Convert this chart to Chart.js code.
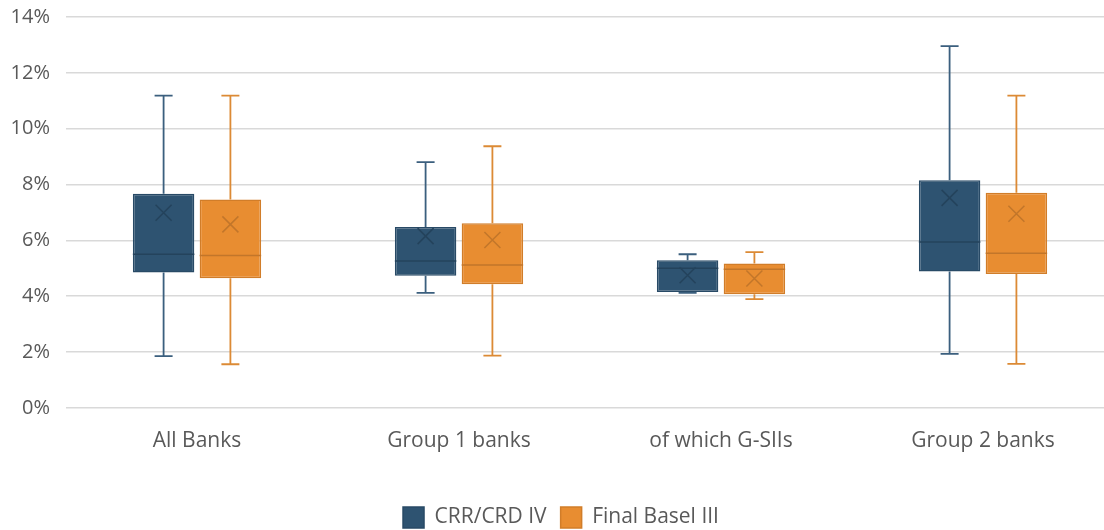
<!DOCTYPE html>
<html>
<head>
<meta charset="utf-8">
<script src="https://cdn.jsdelivr.net/npm/chart.js@4/dist/chart.umd.min.js"></script>
<style>
  html, body { margin: 0; padding: 0; background: #fff; overflow: hidden; }
  #wrap { position: relative; width: 1114px; height: 538px; }
</style>
</head>
<body>
<div id="wrap"><canvas id="myChart"></canvas></div>
<script>
// leverage ratio distribution by bank group
const categories = ["All Banks", "Group 1 banks", "of which G-SIIs", "Group 2 banks"];
const seriesNames = ["CRR/CRD IV", "Final Basel III"];

const crrMin    = [1.85, 4.12, 4.12, 1.93];
const crrQ1     = [4.85, 4.73, 4.15, 4.88];
const crrMedian = [5.50, 5.26, 5.00, 5.94];
const crrQ3     = [7.67, 6.48, 5.29, 8.15];
const crrMax    = [11.18, 8.80, 5.50, 12.96];
const crrMean   = [6.99, 6.15, 4.75, 7.52];

const b3Min    = [1.56, 1.87, 3.89, 1.57];
const b3Q1     = [4.64, 4.43, 4.07, 4.79];
const b3Median = [5.46, 5.12, 4.96, 5.54];
const b3Q3     = [7.46, 6.61, 5.17, 7.70];
const b3Max    = [11.18, 9.37, 5.58, 11.18];
const b3Mean   = [6.57, 6.01, 4.63, 6.95];

const yTicks = [0, 2, 4, 6, 8, 10, 12, 14];

const stats = [
  { min: crrMin, median: crrMedian, max: crrMax, mean: crrMean, line: "#3b5f7e", mark: "#24435c" },
  { min: b3Min, median: b3Median, max: b3Max, mean: b3Mean, line: "#dc8a35", mark: "#c2762a" }
];

// whiskers, median and mean marker on top of the floating bars
const boxExtras = {
  id: "boxExtras",
  afterDatasetsDraw(chart) {
    const ctx = chart.ctx;
    const y = chart.scales.y;
    chart.data.datasets.forEach((ds, di) => {
      const s = stats[di];
      chart.getDatasetMeta(di).data.forEach((bar, i) => {
        const x = bar.x;
        const half = bar.width / 2;
        const yTop = y.getPixelForValue(ds.data[i][1]);
        const yBot = y.getPixelForValue(ds.data[i][0]);
        const yMax = y.getPixelForValue(s.max[i]);
        const yMin = y.getPixelForValue(s.min[i]);
        ctx.save();
        ctx.strokeStyle = s.line;
        ctx.lineWidth = 1.8;
        ctx.beginPath();
        ctx.moveTo(x, yMax); ctx.lineTo(x, yTop);
        ctx.moveTo(x, yBot); ctx.lineTo(x, yMin);
        ctx.moveTo(x - 9, yMax); ctx.lineTo(x + 9, yMax);
        ctx.moveTo(x - 9, yMin); ctx.lineTo(x + 9, yMin);
        ctx.stroke();

        ctx.strokeStyle = s.mark;
        ctx.lineWidth = 1.5;
        const yMed = y.getPixelForValue(s.median[i]);
        ctx.beginPath();
        ctx.moveTo(x - half, yMed); ctx.lineTo(x + half, yMed);
        ctx.stroke();

        const yMean = y.getPixelForValue(s.mean[i]);
        const r = 8;
        ctx.beginPath();
        ctx.moveTo(x - r, yMean - r); ctx.lineTo(x + r, yMean + r);
        ctx.moveTo(x + r, yMean - r); ctx.lineTo(x - r, yMean + r);
        ctx.stroke();
        ctx.restore();
      });
    });
  }
};

Chart.defaults.font.family = "'Open Sans', 'Noto Sans', sans-serif";
Chart.defaults.color = "#595959";

const ctx = document.getElementById("myChart");
new Chart(ctx, {
  type: "bar",
  data: {
    labels: categories,
    datasets: [
      {
        label: seriesNames[0],
        data: crrQ1.map((v, i) => [v, crrQ3[i]]),
        backgroundColor: "#2e5371",
        borderColor: "#284a66",
        borderWidth: 1.5,
        borderSkipped: false
      },
      {
        label: seriesNames[1],
        data: b3Q1.map((v, i) => [v, b3Q3[i]]),
        backgroundColor: "#e88d31",
        borderColor: "#d17d29",
        borderWidth: 1.5,
        borderSkipped: false
      }
    ]
  },
  options: {
    responsive: true,
    maintainAspectRatio: false,
    animation: false,
    categoryPercentage: 0.51,
    barPercentage: 0.92,
    layout: { padding: { top: 0, left: 8, right: 0, bottom: 0 } },
    plugins: {
      tooltip: { enabled: false },
      legend: {
        position: "bottom",
        labels: {
          boxWidth: 21,
          boxHeight: 21,
          padding: 14,
          font: { size: 21 },
          color: "#595959"
        }
      }
    },
    scales: {
      x: {
        grid: { display: false },
        border: { display: false },
        ticks: { font: { size: 21 }, padding: 13, color: "#595959" },
        afterFit: axis => { axis.height += 26; }
      },
      y: {
        min: 0,
        max: 14,
        afterBuildTicks: axis => { axis.ticks = yTicks.map(v => ({ value: v })); },
        afterFit: axis => { axis.width = 58; axis.paddingTop = 17; axis.paddingBottom = 0; },
        grid: { color: "#d9d9d9", lineWidth: 1.5, drawTicks: false },
        border: { display: false },
        ticks: {
          font: { size: 20 },
          padding: 16,
          color: "#595959",
          callback: v => v + "%"
        }
      }
    }
  },
  plugins: [boxExtras]
});
</script>
</body>
</html>
